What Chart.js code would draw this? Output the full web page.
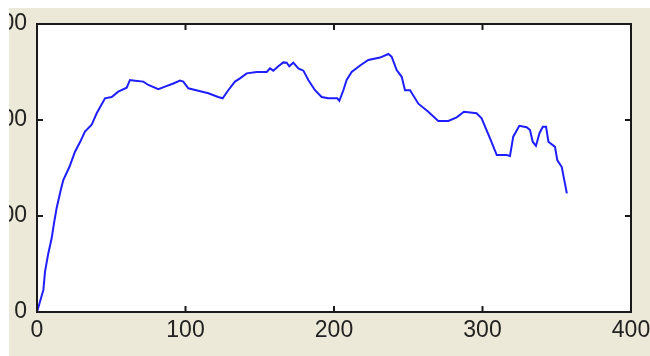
<!DOCTYPE html>
<html>
<head>
<meta charset="utf-8">
<script src="https://cdn.jsdelivr.net/npm/chart.js@4/dist/chart.umd.min.js"></script>
<style>
  html, body { margin: 0; padding: 0; background: #ffffff; width: 650px; height: 356px; overflow: hidden; }
  #wrap { position: absolute; left: 9px; top: 8px; width: 641px; height: 348px; background: #ECE9D8; }
  canvas { display: block; }
</style>
</head>
<body>
<div id="wrap"><canvas id="c" width="641" height="348"></canvas></div>
<script>
// Data
const xValues = [0, 1.5, 4.3, 5.4, 7.6, 9.9, 11.4, 13.2, 16, 17.7, 21.8, 25.6, 29, 32.3, 36.8, 40.2, 45.8, 50.3, 54.7, 60.4,
  62.6, 66, 71.6, 75, 81.7, 86.2, 91.8, 96.3, 98.5, 101.9, 108.6, 115.4, 122, 125, 128.8, 133.3, 136.7, 141.2, 148, 154.7,
  156.9, 159.1, 162.5, 165.9, 168.1, 169.9, 172.6, 176, 179.4, 182.7, 187.2, 191.7, 196.2, 202.2, 203.6, 206.3, 208.5, 211.9,
  217.8, 223.1, 231, 236.6, 238.8, 242.2, 245.6, 247.8, 251.2, 256.8, 263.5, 270.2, 277, 282.6, 287.5, 296, 299.4, 305,
  309.6, 316.3, 318.5, 320.7, 324.8, 329.7, 332, 333.8, 336, 338.3, 340.6, 342.8, 344.4, 348.8, 350.4, 353.4, 354.6, 356.8];
const yValues = [0, 8, 23, 42, 61, 77, 92, 108, 127, 137.5, 151, 167, 177, 188, 195, 207, 222.6, 224, 229.5, 233.7,
  241.7, 241, 240, 236.5, 232, 234.7, 238, 241, 240, 233, 230.5, 227.8, 224, 222.6, 231, 240, 243.4, 248.6, 250, 250,
  253.8, 251.4, 256, 260, 259.7, 256, 259.7, 253.8, 251.4, 241.7, 231, 224, 222.6, 222.6, 220, 231, 241.7, 250,
  257, 262.5, 265, 268.75, 266, 252, 245, 231, 231, 217, 208.6, 199, 199, 202.8, 208.6, 207, 201.8, 181,
  163.5, 163.5, 162.5, 182.6, 194, 192.4, 189.6, 177.4, 173, 186, 193, 193, 177.4, 172, 158, 151, 141, 123.6];
const xTicks = [0, 100, 200, 300, 400];
const yTicks = [0, 100, 200, 300];

const points = xValues.map((x, i) => ({ x: x, y: yValues[i] }));

const boxPlugin = {
  id: 'matlabBox',
  beforeDraw(chart) {
    const ctx = chart.ctx;
    const a = chart.chartArea;
    ctx.save();
    ctx.fillStyle = '#ffffff';
    ctx.fillRect(a.left, a.top, a.right - a.left, a.bottom - a.top);
    ctx.restore();
  },
  afterDraw(chart) {
    const ctx = chart.ctx;
    const a = chart.chartArea;
    const xs = chart.scales.x, ys = chart.scales.y;
    const t = 6;
    ctx.save();
    ctx.strokeStyle = '#1a1a1a';
    ctx.lineWidth = 2;
    ctx.strokeRect(a.left, a.top, a.right - a.left, a.bottom - a.top);
    ctx.beginPath();
    xTicks.forEach(v => {
      const px = xs.getPixelForValue(v);
      ctx.moveTo(px, a.bottom); ctx.lineTo(px, a.bottom - t);
      ctx.moveTo(px, a.top); ctx.lineTo(px, a.top + t);
    });
    yTicks.forEach(v => {
      const py = ys.getPixelForValue(v);
      ctx.moveTo(a.left, py); ctx.lineTo(a.left + t, py);
      ctx.moveTo(a.right, py); ctx.lineTo(a.right - t, py);
    });
    ctx.stroke();
    ctx.restore();
  }
};

new Chart(document.getElementById('c'), {
  type: 'line',
  data: {
    datasets: [{
      data: points,
      borderColor: '#1e1eff',
      borderWidth: 2,
      pointRadius: 0,
      tension: 0,
      fill: false
    }]
  },
  options: {
    responsive: false,
    animation: false,
    layout: { padding: { top: 16, right: 19, left: 0, bottom: 0 } },
    plugins: { legend: { display: false }, tooltip: { enabled: false } },
    scales: {
      x: {
        type: 'linear', min: 0, max: 400,
        grid: { display: false, drawTicks: false },
        border: { display: false },
        afterBuildTicks: s => { s.ticks = xTicks.map(v => ({ value: v })); },
        ticks: { padding: 5, color: '#222', font: { family: 'Liberation Sans, Arial, sans-serif', size: 23 }, maxRotation: 0, autoSkip: false },
        afterFit: s => { s.height = 44; s.paddingLeft = 0; s.paddingRight = 0; }
      },
      y: {
        type: 'linear', min: 0, max: 300,
        grid: { display: false, drawTicks: false },
        border: { display: false },
        afterBuildTicks: s => { s.ticks = yTicks.map(v => ({ value: v })); },
        ticks: { padding: 10, color: '#222', font: { family: 'Liberation Sans, Arial, sans-serif', size: 23 }, autoSkip: false },
        afterFit: s => { s.width = 28; s.paddingTop = 0; s.paddingBottom = 0; }
      }
    }
  },
  plugins: [boxPlugin]
});
</script>
</body>
</html>
